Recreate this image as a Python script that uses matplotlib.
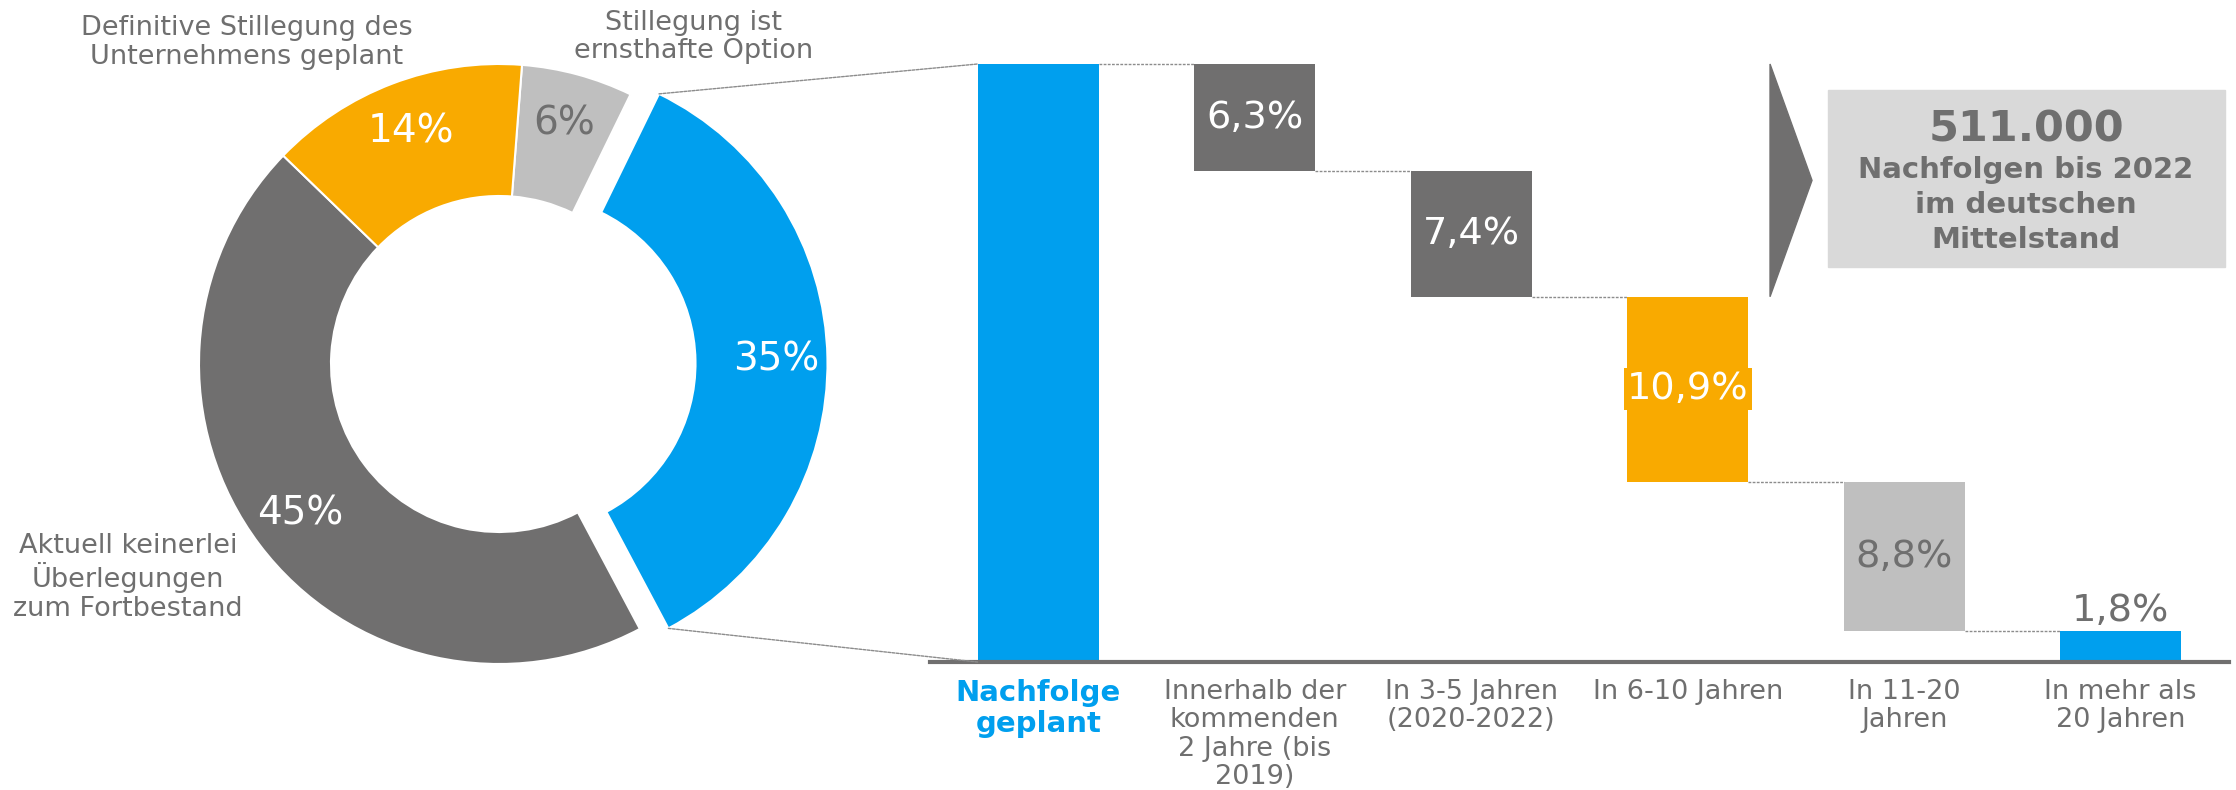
import matplotlib.pyplot as plt
import matplotlib
import numpy as np
from matplotlib.patches import ConnectionPatch, Rectangle, Polygon

matplotlib.rc("font", family="DejaVu Sans")

BLUE = "#009fee"
ORANGE = "#f9aa00"
DARK = "#706f6f"
LIGHT = "#bfbfbf"
BOX = "#d9d9d9"
TEXT = "#6f6f6f"

# donut data (clockwise from just right of 12 o'clock)
pie_labels = ["Stillegung ist\nernsthafte Option",
              "Nachfolge geplant",
              "Aktuell keinerlei\nÜberlegungen\nzum Fortbestand",
              "Definitive Stillegung des\nUnternehmens geplant"]
pie_values = [6, 35, 45, 14]
pie_colors = [LIGHT, BLUE, DARK, ORANGE]
pct_colors = [TEXT, "white", "white", "white"]

# waterfall data
wf_labels = ["Nachfolge\ngeplant",
             "Innerhalb der\nkommenden\n2 Jahre (bis\n2019)",
             "In 3-5 Jahren\n(2020-2022)",
             "In 6-10 Jahren",
             "In 11-20\nJahren",
             "In mehr als\n20 Jahren"]
wf_steps = [6.3, 7.4, 10.9, 8.8, 1.8]
wf_colors = [DARK, DARK, ORANGE, LIGHT, BLUE]
wf_text_colors = ["white", "white", "white", TEXT, TEXT]

box_number = "511.000"
box_text = "Nachfolgen bis 2022\nim deutschen\nMittelstand"

W, H = 2236, 790
fig = plt.figure(figsize=(W / 100, H / 100), dpi=100)

# ---- donut ----
ax_p = fig.add_axes([0, 0, 900 / W, 1])
ax_p.patch.set_alpha(0)
wedges, _, autotexts = ax_p.pie(
    pie_values, colors=pie_colors, startangle=85.6, counterclock=False,
    explode=[0, 0.095, 0, 0], radius=1,
    autopct=lambda p: f"{p:.0f}%", pctdistance=0.83,
    wedgeprops=dict(width=0.44, edgecolor="white", linewidth=1.5),
    textprops=dict(fontsize=28))
for t, c in zip(autotexts, pct_colors):
    t.set_color(c)
ax_p.set_xlim(-499 / 300, 401 / 300)
ax_p.set_ylim(-426 / 300, 364 / 300)

label_pos = [(0.647, 1.09), None, (-1.237, -0.712), (-0.84, 1.072)]
for lab, pos in zip(pie_labels, label_pos):
    if pos is None:
        continue
    ax_p.text(pos[0], pos[1], lab, ha="center", va="center", fontsize=19.5,
              color=TEXT, linespacing=1.12, clip_on=False)

# ---- waterfall ----
total = sum(wf_steps)
heights = [total] + wf_steps
bottoms = [0] + list(total - np.cumsum(wf_steps))
colors = [BLUE] + wf_colors
x = np.arange(len(heights))
bw = 0.56

ax_w = fig.add_axes([930 / W, 128 / H, 1299 / W, 36 * 598 / 35.2 / H])
ax_w.patch.set_alpha(0)
ax_w.bar(x, heights, bottom=bottoms, width=bw, color=colors)
ax_w.set_xlim(-0.5, 5.5)
ax_w.set_ylim(0, 36)

for i in range(len(heights) - 1):
    lvl = bottoms[i + 1] + heights[i + 1]
    ax_w.plot([i + bw / 2, i + 1 - bw / 2], [lvl, lvl], ls=(0, (2, 1)),
              color="#8c8c8c", lw=1)

for i, (v, c) in enumerate(zip(wf_steps, wf_text_colors), start=1):
    s = f"{v:.1f}".replace(".", ",") + "%"
    if i == len(wf_steps):
        ax_w.annotate(s, (i, bottoms[i] + heights[i]), xytext=(0, 2),
                      textcoords="offset points", ha="center", va="bottom",
                      fontsize=27.5, color=c)
    elif colors[i] == ORANGE:
        ax_w.text(i, bottoms[i] + heights[i] / 2, s, ha="center", va="center",
                  fontsize=27.5, color=c,
                  bbox=dict(boxstyle="square,pad=0.08", fc=ORANGE, ec="none"))
    else:
        ax_w.text(i, bottoms[i] + heights[i] / 2, s, ha="center", va="center",
                  fontsize=27.5, color=c)

ax_w.set_xticks(x, wf_labels)
ax_w.tick_params(axis="x", length=0, pad=12, labelsize=19.5, labelcolor=TEXT)
for t in ax_w.get_xticklabels():
    t.set_linespacing(1.13)
first = ax_w.get_xticklabels()[0]
first.set_color(BLUE)
first.set_fontweight("bold")
first.set_fontsize(21)
ax_w.set_yticks([])
for s in ["top", "left", "right"]:
    ax_w.spines[s].set_visible(False)
ax_w.spines["bottom"].set_color(DARK)
ax_w.spines["bottom"].set_linewidth(3)

# dashed lines from blue wedge to total bar
bw_w = wedges[1]
cx, cy = bw_w.center
for ang, yb in [(bw_w.theta2, total), (bw_w.theta1, 0)]:
    pa = (cx + bw_w.r * np.cos(np.radians(ang)), cy + bw_w.r * np.sin(np.radians(ang)))
    con = ConnectionPatch(xyA=pa, coordsA=ax_p.transData, xyB=(-bw / 2, yb),
                          coordsB=ax_w.transData, ls=(0, (2, 1)),
                          color="#8c8c8c", lw=1)
    fig.add_artist(con)

# arrow triangle for the years until 2022
y_top = total
y_bot = total - wf_steps[0] - wf_steps[1]
tri = Polygon([[3.38, y_top], [3.38, y_bot], [3.574, (y_top + y_bot) / 2]],
              closed=True, color=DARK, clip_on=False)
ax_w.add_patch(tri)

# summary box
fig.add_artist(Rectangle((1828 / W, (H - 267) / H), 397 / W, 177 / H,
                         transform=fig.transFigure, color=BOX, zorder=1))
fig.text(2026 / W, 1 - 129 / H, box_number, ha="center", va="center",
         fontsize=31, fontweight="bold", color=TEXT, zorder=3)
fig.text(2026 / W, 1 - 205 / H, box_text, ha="center", va="center",
         fontsize=21, fontweight="bold", color=TEXT, linespacing=1.3, zorder=3)

fig.savefig("out.png", dpi=100)
